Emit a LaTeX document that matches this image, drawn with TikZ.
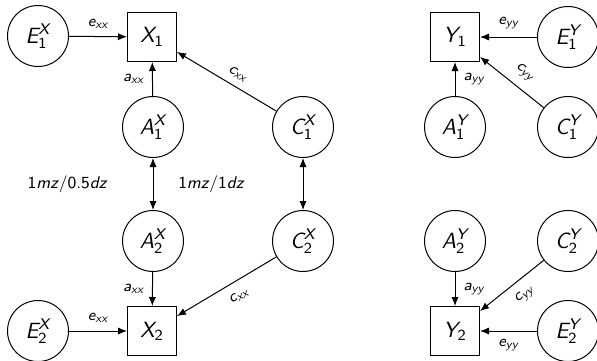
\documentclass[tikz,border=0pt]{standalone}
\usepackage{amsmath}
\usetikzlibrary{arrows.meta}
\tikzset{
  nodefont/.style={font=\sffamily\fontsize{11}{13}\selectfont},
  lat/.style={circle,draw,line width=0.5pt,minimum size=30.5pt,inner sep=0pt,nodefont},
  obs/.style={rectangle,draw,line width=0.5pt,minimum size=24.5pt,inner sep=0pt,nodefont},
  tip/.tip={Latex[length=4.5pt,width=3.6pt]},
  pth/.style={-tip,line width=0.5pt},
  cov/.style={tip-tip,line width=0.5pt},
  lab/.style={font=\sffamily\fontsize{8}{9}\selectfont,inner sep=1.5pt},
  biglab/.style={font=\sffamily\fontsize{8.5}{10}\selectfont,inner sep=0pt}
}
\newcommand{\lv}[3]{$\textit{#1}^{\textit{#3}}_{\text{#2}}$}
\newcommand{\ov}[2]{$\textit{#1}_{\text{#2}}$}
\newcommand{\pl}[2]{$\textit{#1}_{\textit{#2}}$}
\begin{document}
\begin{tikzpicture}[x=0.5pt,y=-0.5pt]
\useasboundingbox (0,0) rectangle (597,360);
% left block
\node[lat] (E1X) at (38,36) {\lv{E}{1}{X}};
\node[obs] (X1) at (152,37) {\ov{X}{1}};
\node[lat] (A1X) at (153,127) {\lv{A}{1}{X}};
\node[lat] (C1X) at (303,127) {\lv{C}{1}{X}};
\node[lat] (A2X) at (153,241) {\lv{A}{2}{X}};
\node[lat] (C2X) at (303,241) {\lv{C}{2}{X}};
\node[obs] (X2) at (152,331) {\ov{X}{2}};
\node[lat] (E2X) at (38,331) {\lv{E}{2}{X}};
% right block
\node[obs] (Y1) at (455,37) {\ov{Y}{1}};
\node[lat] (E1Y) at (568,37) {\lv{E}{1}{Y}};
\node[lat] (A1Y) at (455,127) {\lv{A}{1}{Y}};
\node[lat] (C1Y) at (568,127) {\lv{C}{1}{Y}};
\node[lat] (A2Y) at (455,241) {\lv{A}{2}{Y}};
\node[lat] (C2Y) at (568,241) {\lv{C}{2}{Y}};
\node[obs] (Y2) at (455,331) {\ov{Y}{2}};
\node[lat] (E2Y) at (568,331) {\lv{E}{2}{Y}};
% paths left
\draw[pth] (E1X) -- node[lab,above=2.5pt] {\pl{e}{xx}} (X1);
\draw[pth] (A1X) -- node[lab,left=2.5pt] {\pl{a}{xx}} (X1);
\draw[pth] (C1X) -- node[lab,sloped,above=2pt,pos=0.45] {\pl{c}{xx}} (X1);
\draw[cov] (A1X) -- node[biglab,left=22.5pt] {1\textit{mz}/0.5\textit{dz}} (A2X);
\draw[cov] (C1X) -- node[biglab,left=29pt] {1\textit{mz}/1\textit{dz}} (C2X);
\draw[pth] (A2X) -- node[lab,left=2.5pt] {\pl{a}{xx}} (X2);
\draw[pth] (C2X) -- node[lab,sloped,below=3pt,pos=0.45] {\pl{c}{xx}} (X2);
\draw[pth] (E2X) -- node[lab,above=2.5pt] {\pl{e}{xx}} (X2);
% paths right
\draw[pth] (E1Y) -- node[lab,above=2.5pt] {\pl{e}{yy}} (Y1);
\draw[pth] (A1Y) -- node[lab,right=2.5pt] {\pl{a}{yy}} (Y1);
\draw[pth] (C1Y) -- node[lab,sloped,above=3pt,pos=0.45] {\pl{c}{yy}} (Y1);
\draw[pth] (A2Y) -- node[lab,right=2.5pt] {\pl{a}{yy}} (Y2);
\draw[pth] (C2Y) -- node[lab,sloped,below=3pt,pos=0.45] {\pl{c}{yy}} (Y2);
\draw[pth] (E2Y) -- node[lab,below=2.5pt] {\pl{e}{yy}} (Y2);
\end{tikzpicture}
\end{document}
